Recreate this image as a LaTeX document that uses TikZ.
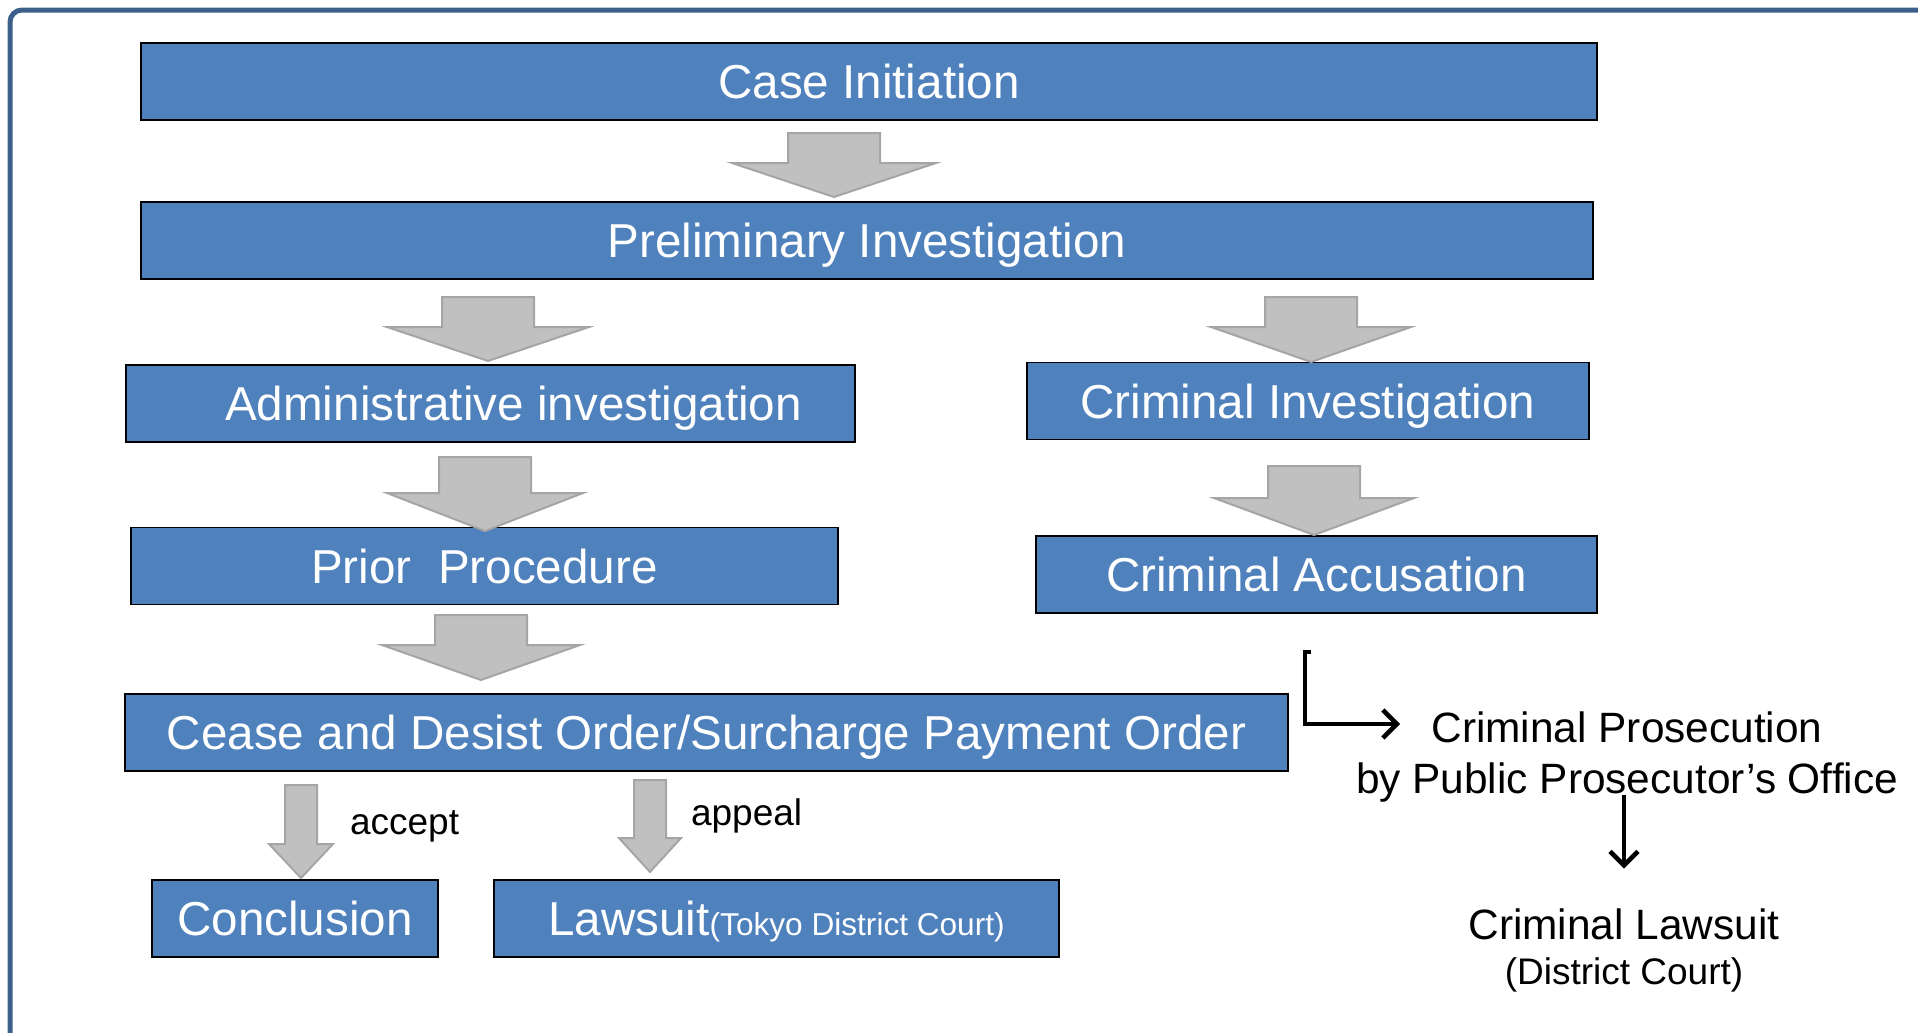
\documentclass[tikz,border=0pt]{standalone}
\usepackage{fontspec}
\setmainfont{Liberation Sans}
\usetikzlibrary{arrows.meta}

\definecolor{boxblue}{RGB}{79,129,189}
\definecolor{frameblue}{RGB}{60,95,140}
\definecolor{arrowgray}{RGB}{192,192,192}
\definecolor{arrowedge}{RGB}{165,165,165}

\newcommand{\boxfont}{\fontsize{23.8}{28}\selectfont}
\newcommand{\notefont}{\fontsize{18.5}{22}\selectfont}
\newcommand{\sidefont}{\fontsize{21.2}{25.5}\selectfont}
\newcommand{\courtfont}{\fontsize{15.8}{19}\selectfont}

\tikzset{
  stagebox/.style={draw=black, line width=0.8pt, fill=boxblue, text=white,
    font=\boxfont, minimum height=38.5pt, inner sep=0pt,
    text height=17pt, text depth=0pt},
  blockarrow/.style={fill=arrowgray, draw=arrowedge, line width=1pt},
  blackarrow/.style={line width=2.3pt, -{Straight Barb[length=7pt,width=14pt]}},
}

% x, top, length, shaft half width, head half width, shaft length
\newcommand{\downblock}[6]{%
  \draw[blockarrow] (#1-#4,#2) -- (#1+#4,#2) -- (#1+#4,#2+#6) -- (#1+#5,#2+#6)
    -- (#1,#2+#3) -- (#1-#5,#2+#6) -- (#1-#4,#2+#6) -- cycle;}

\begin{document}
\begin{tikzpicture}[x=0.5pt, y=-0.5pt]

    \useasboundingbox (0,0) rectangle (1918,1033);

    % --- Frame ---
    \draw[frameblue, line width=2.5pt, rounded corners=6pt] (1930,10) -- (10,10) -- (10,1045);

    % --- 1. Common stages ---
    \node[stagebox, minimum width=728pt] (casebox) at (869,81.5) {Case Initiation};
    \node[stagebox, minimum width=726pt] (prelim) at (867,240.5) {Preliminary Investigation};

    % --- 2. Administrative side ---
    \node[stagebox, minimum width=364.5pt] (admininv) at (490.5,403.5)
        {\hspace*{23pt}Administrative investigation};
    \node[stagebox, minimum width=353.5pt] (priorproc) at (484.5,566) {Prior\ \ Procedure};
    \node[stagebox, minimum width=581.5pt] (ceaseorder) at (706.5,732.5)
        {Cease and Desist Order/Surcharge Payment Order};
    \node[stagebox, minimum width=143pt] (conclusion) at (295,918.5) {Conclusion};
    \node[stagebox, minimum width=282.5pt] (lawsuit) at (776.5,918.5)
        {Lawsuit{\courtfont(Tokyo District Court)}};

    % --- 3. Criminal side ---
    \node[stagebox, minimum width=281pt] (criminv) at (1308,401) {Criminal Investigation};
    \node[stagebox, minimum width=280.5pt] (crimacc) at (1316.5,574.5) {Criminal Accusation};
    \node[font=\sidefont, align=center, inner sep=0pt] (prosecution) at (1627,757)
        {Criminal Prosecution\\by Public Prosecutor's Office};
    \node[font=\sidefont, align=center, inner sep=0pt] (crimlawsuit) at (1624,950)
        {Criminal Lawsuit\\[-3pt]{\notefont (District Court)}};

    % --- 4. Block arrows between stages ---
    \downblock{834}{133}{64}{46}{102}{30}
    \downblock{488}{297}{64}{46}{101}{30}
    \downblock{1311}{297}{65}{46}{100}{30}
    \downblock{485}{457}{74}{46}{98}{36}
    \downblock{1314}{466}{69}{46}{100}{32}
    \downblock{481}{615}{65}{46}{99}{30}
    % accept / appeal
    \downblock{301}{785}{93}{16}{32}{59}
    \downblock{650}{780}{92}{16}{31}{58}
    \node[font=\notefont, right] (acceptlbl) at (343,826) {accept};
    \node[font=\notefont, right] (appeallbl) at (684,816) {appeal};

    % --- 5. Prosecution arrows ---
    \coordinate (bendtop) at (1311,652);
    \coordinate (prosectip) at (1400,724);
    \draw[blackarrow] (bendtop) -- (1305,652) -- (1305,724) -- (prosectip);
    \draw[blackarrow] ([yshift=4pt]prosecution.south -| crimlawsuit) -- ++(0,74);

\end{tikzpicture}
\end{document}
